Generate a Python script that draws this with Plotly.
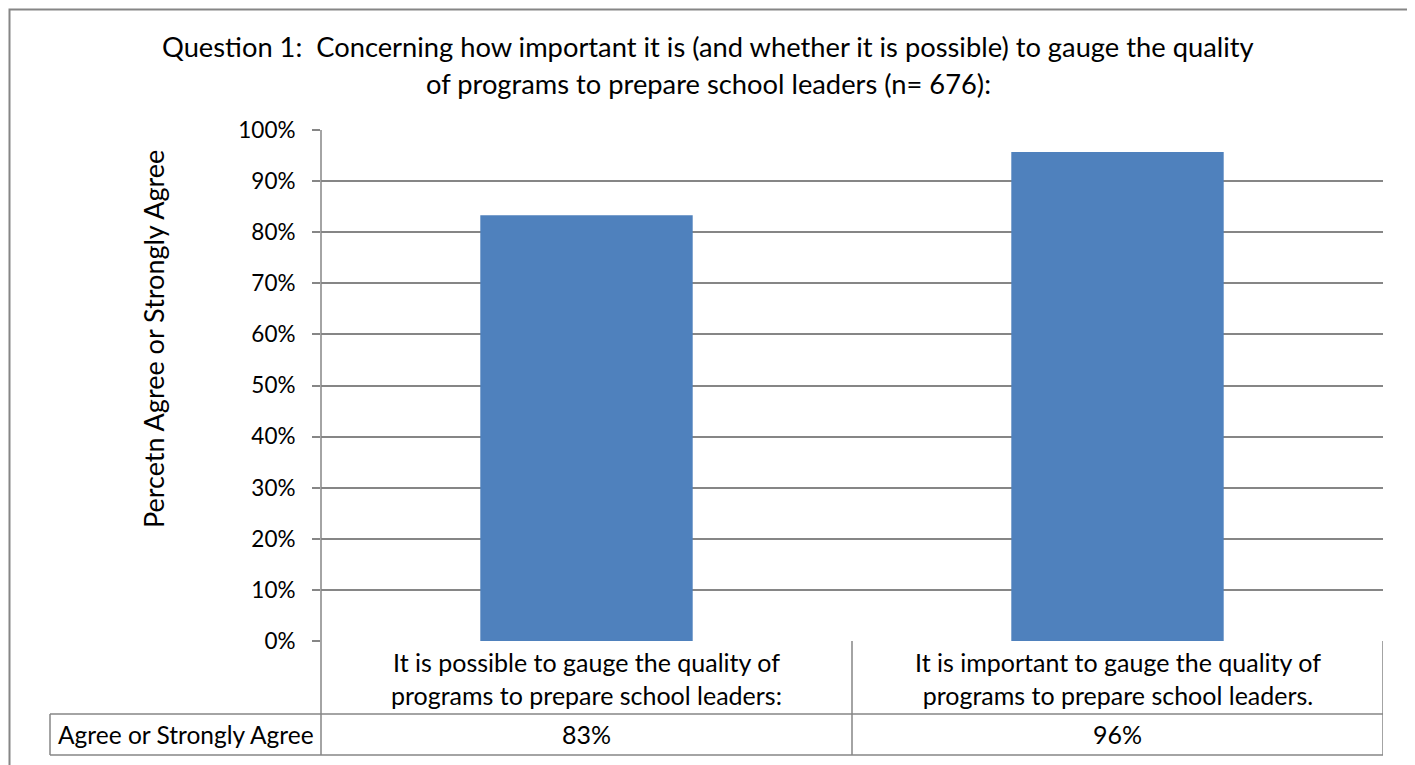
import plotly.graph_objs as go

# Données
categories = [
    "It is possible to gauge the quality of<br>programs to prepare school leaders:",
    "It is important to gauge the quality of<br>programs to prepare school leaders.",
]
values = [0.833, 0.957]
value_labels = ["83%", "96%"]
series_name = "Agree or Strongly Agree"
title_lines = [
    "Question 1:  Concerning how important it is (and whether it is possible) to gauge the quality",
    "of programs to prepare school leaders (n= 676):",
]
y_title = "Percetn Agree or Strongly Agree"

# la page ajoute une marge de 8 px autour de la figure
OFF = 8
W, H = 1415 - OFF, 765 - OFF
ML, MR, MT, MB = 321 - OFF, 32, 130 - OFF, 124
PW = W - ML - MR
PH = H - MT - MB
FONT = "Lato"
GRID = "rgb(134,134,134)"


def px(x):
    # pixel de la référence -> coordonnée papier (x)
    return (x - OFF - ML) / PW


def py(y):
    # pixel de la référence -> coordonnée papier (y)
    return (H - MB - (y - OFF)) / PH


bar = go.Bar(
    x=list(range(len(categories))),
    y=values,
    width=0.4,
    marker=dict(color="rgb(79,129,189)", line=dict(width=0)),
    name=series_name,
    showlegend=False,
)

fig = go.Figure(data=[bar])

# Lignes du tableau de données
line = dict(color=GRID, width=1.5)
shapes = [
    # cadre extérieur (au bord de la figure)
    dict(type="rect", xref="paper", yref="paper", x0=px(9.5), x1=px(1410), y0=py(9.5), y1=py(790),
         line=dict(color=GRID, width=2)),
    # axe vertical prolongé dans le tableau
    dict(type="line", xref="paper", yref="paper", x0=0, x1=0, y0=py(755), y1=1, line=line),
    dict(type="line", xref="x", yref="paper", x0=0.5, x1=0.5, y0=py(755), y1=0, line=line),
    dict(type="line", xref="x", yref="paper", x0=1.5, x1=1.5, y0=py(755), y1=0, line=line),
    dict(type="line", xref="paper", yref="paper", x0=px(50), x1=px(50), y0=py(755), y1=py(714), line=line),
    dict(type="line", xref="paper", yref="paper", x0=px(50), x1=1, y0=py(714), y1=py(714), line=line),
    dict(type="line", xref="paper", yref="paper", x0=px(50), x1=1, y0=py(755), y1=py(755), line=line),
]

annotations = []
for i, txt in enumerate(title_lines):
    annotations.append(dict(
        text=txt, xref="paper", yref="paper", x=px(708), y=py(47 + 37 * i),
        xanchor="center", yanchor="middle", showarrow=False, font=dict(size=27.3, family=FONT, color="black"),
    ))
annotations.append(dict(
    text=y_title, xref="paper", yref="paper", x=px(153), y=py(339), textangle=-90,
    xanchor="center", yanchor="middle", showarrow=False, font=dict(size=27, family=FONT, color="black"),
))
for i, cat in enumerate(categories):
    annotations.append(dict(
        text=cat, xref="x", yref="paper", x=i, y=py(678), xanchor="center", yanchor="middle",
        showarrow=False, font=dict(size=25, family=FONT, color="black"),
    ))
    annotations.append(dict(
        text=value_labels[i], xref="x", yref="paper", x=i, y=py(734), xanchor="center", yanchor="middle",
        showarrow=False, font=dict(size=25, family=FONT, color="black"),
    ))
annotations.append(dict(
    text=series_name, xref="paper", yref="paper", x=px(56), y=py(734), xanchor="left", yanchor="middle",
    showarrow=False, font=dict(size=24.5, family=FONT, color="black"),
))

fig.update_layout(
    width=W,
    height=H,
    margin=dict(l=ML, r=MR, t=MT, b=MB),
    paper_bgcolor="white",
    plot_bgcolor="white",
    font=dict(family=FONT, size=22, color="black"),
    xaxis=dict(
        range=[-0.5, 1.5],
        showticklabels=False,
        showgrid=False,
        zeroline=False,
        showline=False,
        ticks="",
    ),
    yaxis=dict(
        range=[0, 1],
        dtick=0.1,
        tickformat=".0%",
        showgrid=True,
        gridcolor=GRID,
        gridwidth=1.5,
        zeroline=False,
        showline=False,
        ticks="outside",
        ticklen=8,
        tickcolor=GRID,
        tickwidth=1.5,
        ticklabelstandoff=12,
        tickfont=dict(size=22.5, family=FONT, color="black"),
    ),
    shapes=shapes,
    annotations=annotations,
    bargap=0.6,
)

fig.write_html("out.html")
